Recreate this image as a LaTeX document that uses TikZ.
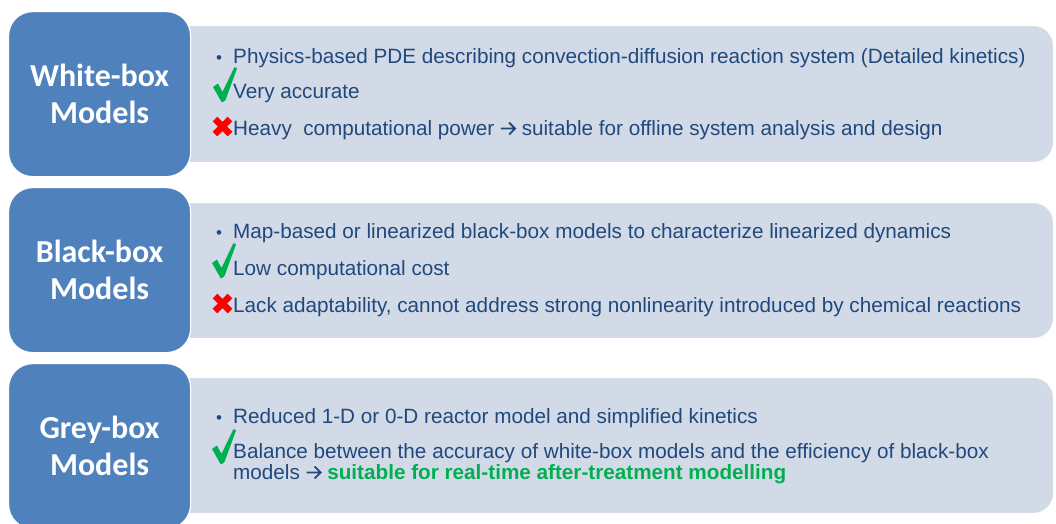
\documentclass[tikz,border=0pt]{standalone}
\usepackage{fontspec}
\setmainfont{Liberation Sans}
\newfontfamily\carlito{Carlito}
\definecolor{boxblue}{HTML}{4F81BD}
\definecolor{panel}{HTML}{D3DAE7}
\definecolor{txt}{HTML}{1F497D}
\definecolor{okgreen}{HTML}{00B050}
\definecolor{nored}{HTML}{FF0000}
\newcommand{\rarr}{\tikz[baseline=0pt, x=1pt, y=1pt]
  \draw[txt, line width=1.9pt, line cap=butt, line join=miter]
  (0,6.5) -- (14,6.5) (8,12.5) -- (14,6.5) -- (8,0.5);}
\begin{document}
\begin{tikzpicture}[x=1pt,y=-1pt,
  titlebox/.style={fill=boxblue, draw=white, line width=1.2pt, rounded corners=24pt,
    minimum width=182pt, minimum height=165pt, inner sep=0pt, anchor=north west,
    font=\carlito\bfseries\fontsize{32}{37}\selectfont, text=white, align=center},
  panelbox/.style={fill=panel, draw=white, line width=1pt, rounded corners=20pt,
    minimum width=883pt, minimum height=137pt, inner sep=0pt, anchor=north west},
  itemtext/.style={anchor=base west, inner sep=0pt, text=txt,
    font=\fontsize{20.7}{22}\selectfont},
  bullettext/.style={anchor=base west, inner sep=0pt, text=txt,
    font=\fontsize{17}{19}\selectfont},
  okmark/.pic={\fill[okgreen] (0,20) -- (5,16.5) -- (9.5,25) -- (21.5,0) -- (24,1.5)
     -- (12.5,33) -- (10,35) -- (8.5,35) -- cycle;},
  nomark/.pic={\draw[nored, line width=6.5pt] (3,3) -- (18,18) (3,18) -- (18,3);}
]
\useasboundingbox (0,0) rectangle (1056,523);
\clip (0,0) rectangle (1056,523);

% panels
\node[panelbox] (p1) at (170,25) {};
\node[panelbox, minimum height=136pt] (p2) at (170,202) {};
\node[panelbox, minimum height=136pt] (p3) at (170,377) {};

% title boxes
\node[titlebox] (t1) at (8,11) {White-box\\Models};
\node[titlebox] (t2) at (8,187) {Black-box\\Models};
\node[titlebox] (t3) at (8,363) {Grey-box\\Models};

% row 1
\node[bullettext] (b1) at (216,63) {•};
\node[itemtext] (r1a) at (233,63) {Physics-based PDE describing convection-diffusion reaction system (Detailed kinetics)};
\pic at (213,67) {okmark};
\node[itemtext] (r1b) at (233,98) {Very accurate};
\pic at (212,116) {nomark};
\node[itemtext] (r1c) at (233,135) {Heavy\ \ computational power \rarr\ suitable for offline system analysis and design};

% row 2
\node[bullettext] (b2) at (216,238) {•};
\node[itemtext] (r2a) at (233,238) {Map-based or linearized black-box models to characterize linearized dynamics};
\pic at (212,243) {okmark};
\node[itemtext] (r2b) at (233,275) {Low computational cost};
\pic at (212,293) {nomark};
\node[itemtext] (r2c) at (233,312) {Lack adaptability, cannot address strong nonlinearity introduced by chemical reactions};

% row 3
\node[bullettext] (b3) at (216,423) {•};
\node[itemtext] (r3a) at (233,423) {Reduced 1-D or 0-D reactor model and simplified kinetics};
\pic at (212,429) {okmark};
\node[itemtext] (r3b) at (233,458) {Balance between the accuracy of white-box models and the efficiency of black-box};
\node[itemtext] (r3c) at (233,479) {models \rarr\ {\color{okgreen}\bfseries suitable for real-time after-treatment modelling}};
\end{tikzpicture}
\end{document}
